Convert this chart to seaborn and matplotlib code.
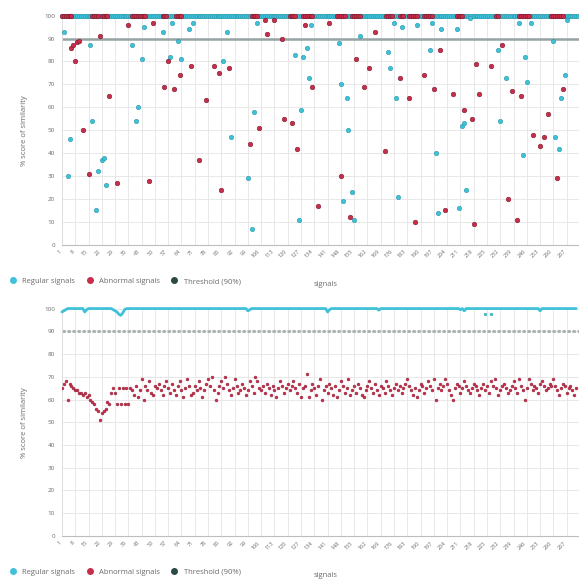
import pandas as pd
import seaborn as sns
import matplotlib.pyplot as plt
from matplotlib.lines import Line2D

# ---- top chart: scores that fall below 100 % (signal number, score) ----
reg_idx = [2, 4, 5, 16, 17, 19, 20, 22, 23, 24, 38, 40, 41, 43, 44, 54, 58, 59, 62, 64,
           68, 70, 86, 88, 90, 99, 101, 102, 104, 124, 126, 127, 128, 130, 131, 132, 147,
           148, 149, 151, 152, 154, 155, 158, 173, 174, 176, 177, 178, 180, 188, 195, 196,
           198, 199, 201, 209, 210, 212, 213, 214, 216, 231, 232, 235, 242, 244, 245, 246,
           248, 260, 261, 263, 264, 266, 267]
reg_score = [93, 30, 46, 87, 54, 15, 32, 37, 38, 26, 87, 54, 60, 81, 95, 93, 82, 97, 89, 81,
             94, 97, 80, 93, 47, 29, 7, 58, 97, 83, 11, 59, 82, 86, 73, 96, 88,
             70, 19, 64, 50, 23, 11, 91, 84, 77, 97, 64, 21, 95, 96, 85, 97,
             40, 14, 94, 94, 16, 52, 53, 24, 99, 85, 54, 73, 97, 39, 82, 71,
             97, 89, 47, 42, 64, 74, 98]
abn_idx = [6, 7, 9, 10, 8, 12, 15, 21, 26, 30, 36, 47, 49, 55, 57, 60, 63, 69, 73, 77,
           81, 84, 85, 89, 100, 105, 108, 109, 113, 117, 118, 122, 125, 129, 133, 136, 142,
           148, 153, 156, 160, 163, 166, 171, 179, 184, 187, 192, 197, 200, 203, 207, 213,
           217, 218, 219, 221, 227, 233, 236, 238, 241, 243, 249, 253, 255, 257, 262, 265]
abn_score = [86, 87, 88.6, 89, 80, 50, 31, 91, 65, 27, 96, 28, 97, 69, 80, 68, 74, 78, 37, 63,
             78, 75, 24, 77, 44, 51, 98, 92, 98, 90, 55, 53, 42, 96, 69, 17, 97,
             30, 12, 81, 69, 77, 93, 41, 73, 64, 10, 74, 68, 85, 15, 66, 59,
             55, 9, 79, 66, 78, 87, 20, 67, 11, 65, 48, 43, 47, 57, 29, 68]

# runs of signals sitting at 100 %
reg_full_runs = [(1, 16), (17, 37), (38, 120), (121, 183), (184, 229), (230, 273)]
abn_full_runs = [(1, 6), (17, 20), (22, 25), (38, 45), (54, 56), (61, 64), (101, 104),
                 (121, 124), (128, 133), (146, 150), (154, 158), (172, 175), (179, 181),
                 (184, 188), (192, 196), (209, 212), (230, 231), (242, 247), (259, 265)]

# ---- bottom chart ----
abn_b_score = [
    65, 67, 68, 60, 67, 66, 65, 64, 64, 63, 63, 62, 63, 61, 62, 60, 59, 58, 56, 55,
    51, 54, 55, 56, 59, 58, 63, 65, 63, 58, 65, 58, 65, 58, 65, 58, 65, 64, 62, 66,
    61, 64, 69, 60, 66, 64, 68, 63, 62, 66, 65, 67, 64, 62, 66, 68, 65, 63, 67, 64,
    62, 66, 68, 64, 61, 65, 69, 66, 62, 63, 66, 64, 68, 65, 61, 64, 67, 69, 66, 70,
    64, 60, 63, 66, 68, 65, 70, 67, 64, 62, 65, 69, 66, 63, 64, 67, 65, 62, 64, 68,
    66, 63, 70, 68, 65, 64, 66, 63, 67, 65, 62, 66, 64, 61, 65, 68, 66, 63, 65, 67,
    64, 66, 68, 65, 63, 67, 61, 65, 66, 71, 61, 64, 67, 65, 62, 66, 69, 60, 64, 66,
    63, 67, 65, 62, 66, 61, 64, 68, 66, 63, 65, 69, 62, 64, 66, 63, 67, 65, 62, 61,
    64, 66, 68, 65, 63, 67, 64, 62, 66, 65, 63, 68, 66, 64, 62, 65, 67, 64, 66, 63,
    65, 67, 69, 66, 64, 62, 65, 61, 64, 67, 66, 63, 65, 68, 66, 64, 69, 60, 65, 67,
    64, 66, 69, 67, 64, 62, 60, 65, 67, 66, 63, 65, 68, 66, 64, 63, 65, 67, 66, 64,
    62, 65, 67, 64, 66, 63, 68, 66, 69, 65, 62, 64, 66, 67, 65, 63, 64, 66, 68, 65,
    63, 69, 66, 64, 60, 65, 69, 67, 64, 66, 65, 63, 67, 68, 66, 64, 65, 67, 66, 69,
    66, 64, 62, 65, 67, 66, 63, 65, 66, 64, 62, 65]
# regular signals: 100 % except these dips
reg_b_base = 100
reg_b_dips = {1: 98.5, 2: 99, 3: 99.5, 13: 98.5, 14: 99.5, 28: 99.5, 29: 99, 30: 98.5,
              31: 97.5, 32: 97, 33: 98, 34: 99.5, 99: 99, 100: 99.5, 141: 98.5,
              142: 99.5, 168: 99.3, 211: 99.5, 213: 99, 253: 99}
reg_b_extra_idx = [224, 227]
reg_b_extra_score = [97.4, 97.4]

threshold = 90
tick_step = 7

cyan = '#3fc1d9'
red = '#c72e4b'
dark = '#2c4a45'
grey_txt = '#6b6b6b'

sns.set_style('whitegrid')
plt.rcParams['font.family'] = ['Open Sans', 'DejaVu Sans']


def expand(runs):
    return [i for a, b in runs for i in range(a, b + 1)]


reg_full = expand(reg_full_runs)
abn_full = expand(abn_full_runs)
top_reg = pd.DataFrame({'signal': reg_full + reg_idx,
                        'score': [100] * len(reg_full) + reg_score})
top_abn = pd.DataFrame({'signal': abn_full + abn_idx,
                        'score': [100] * len(abn_full) + abn_score})

signals = list(range(1, len(abn_b_score) + 1))
bot_abn = pd.DataFrame({'signal': signals, 'score': abn_b_score})
bot_reg = pd.DataFrame({'signal': signals,
                        'score': [reg_b_dips.get(i, reg_b_base) for i in signals]})
bot_extra = pd.DataFrame({'signal': reg_b_extra_idx, 'score': reg_b_extra_score})

fig = plt.figure(figsize=(5.79, 5.80), dpi=100)
ax1 = fig.add_axes([0.107, 0.578, 0.893, 0.395])
ax2 = fig.add_axes([0.107, 0.076, 0.893, 0.392])

# top: scatter
ax1.axhline(threshold, color='#97a3a3', lw=1.8, zorder=2)
sns.scatterplot(data=top_reg, x='signal', y='score', ax=ax1, color=cyan, s=10,
                edgecolor='#2a98ab', linewidth=0.4, zorder=3, clip_on=False)
sns.scatterplot(data=top_abn, x='signal', y='score', ax=ax1, color=red, s=11,
                edgecolor='#7e1a2e', linewidth=0.4, zorder=4, clip_on=False)

# bottom: line + dense points
ax2.axhline(threshold, color='#a6b0b0', lw=2.0, ls=(0, (1.2, 0.6)), zorder=2)
sns.lineplot(data=bot_reg, x='signal', y='score', ax=ax2, color=cyan, lw=2.0,
             zorder=3, clip_on=False)
sns.scatterplot(data=bot_extra, x='signal', y='score', ax=ax2, color=cyan, s=4,
                edgecolor='#2a98ab', linewidth=0.3, zorder=3)
sns.scatterplot(data=bot_abn, x='signal', y='score', ax=ax2, color=red, s=4.5,
                edgecolor='#8a2035', linewidth=0.3, zorder=4)

handles = [Line2D([], [], marker='o', ls='', color=cyan, markersize=4, label='Regular signals'),
           Line2D([], [], marker='o', ls='', color=red, markersize=4, label='Abnormal signals'),
           Line2D([], [], marker='o', ls='', color=dark, markersize=4, label='Threshold (90%)')]

for ax in (ax1, ax2):
    ax.set_xlim(1, 273.5)
    ax.set_ylim(0, 100)
    ax.set_yticks(range(0, 101, 10))
    ax.set_xticks(range(1, 274, tick_step))
    ax.tick_params(axis='x', labelrotation=45, labelsize=4, colors=grey_txt,
                   length=2, pad=1)
    ax.tick_params(axis='y', labelsize=4.5, colors=grey_txt, length=3, pad=2)
    for lab in ax.get_xticklabels():
        lab.set_ha('right')
    ax.grid(True, color='#e4e4e4', lw=0.6)
    for side in ('top', 'right'):
        ax.spines[side].set_visible(False)
    ax.spines['left'].set_color('#dddddd')
    ax.spines['bottom'].set_color('#bdbdbd')
    ax.spines['left'].set_linewidth(0.6)
    ax.spines['bottom'].set_linewidth(0.8)
    ax.set_ylabel('% score of similarity', fontsize=5.5, color=grey_txt)
    ax.yaxis.set_label_coords(-0.065, 0.5)
    ax.set_xlabel('signals', fontsize=5.5, color=grey_txt)
    ax.xaxis.set_label_coords(0.51, -0.16)
    ax.legend(handles=handles, loc='center left', bbox_to_anchor=(-0.115, -0.16),
              ncol=3, frameon=False, fontsize=5.5, labelcolor=grey_txt,
              handletextpad=0.2, columnspacing=0.9, borderaxespad=0)

fig.savefig('out.png', dpi=100, facecolor='white')
